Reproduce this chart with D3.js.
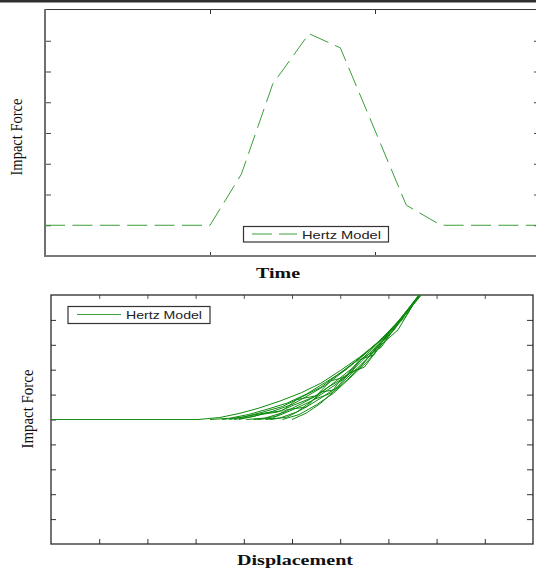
<!DOCTYPE html>
<html>
<head>
<meta charset="utf-8">
<script src="https://cdn.jsdelivr.net/npm/d3@7"></script>
<style>
  html, body { margin: 0; padding: 0; background: #fff; }
  svg { display: block; }
</style>
</head>
<body>
<svg id="chart" width="536" height="571"></svg>
<script>
// ---- Impact force vs time (Hertz model) ----
const timeTicks = [0, 1, 2, 3];
const forceTicksTop = [-1, 0, 1, 2, 3, 4, 5, 6, 7];
const timeValues  = [0, 1.0, 1.19, 1.38, 1.60, 1.79, 2.19, 2.40, 3.0];
const forceValues = [0, 0,   1.66, 4.59, 6.23, 5.77, 0.65, 0,    0];

// ---- Impact force vs displacement (Hertz model, repeated contacts) ----
const dispTicks = [0, 1, 2, 3, 4, 5, 6, 7, 8, 9, 10];
const forceTicksBottom = [-5, -4, -3, -2, -1, 0, 1, 2, 3, 4, 5];
const approachDisp  = [0, 3.05];
const approachForce = [0, 0];
const loopDisp = [
  [3.05, 3.5, 3.9, 4.3, 4.75, 5.2, 5.6, 6.0, 6.4, 6.8, 7.2, 7.6, 7.8],
  [3.3, 3.7, 4.1, 4.5, 4.9, 5.3, 5.7, 6.1, 6.5, 6.9, 7.3, 7.7],
  [3.55, 4.0, 4.4, 4.8, 5.2, 5.6, 5.95, 6.35, 6.75, 7.15, 7.55, 7.75],
  [3.8, 4.2, 4.6, 5.0, 5.35, 5.7, 6.1, 6.5, 6.9, 7.3, 7.7],
  [4.05, 4.45, 4.85, 5.2, 5.55, 5.9, 6.25, 6.65, 7.0, 7.4, 7.75],
  [4.3, 4.7, 5.05, 5.4, 5.75, 6.1, 6.45, 6.8, 7.2, 7.6, 7.8],
  [4.55, 4.9, 5.25, 5.6, 5.95, 6.3, 6.65, 7.0, 7.4, 7.75],
  [4.8, 5.15, 5.5, 5.85, 6.2, 6.55, 6.9, 7.25, 7.65, 7.8],
  [5.0, 5.3, 5.6, 5.85, 6.15, 6.45, 6.8, 7.15, 7.55, 7.75],
  [4.2, 4.6, 4.9, 5.3, 5.6, 5.9, 6.2, 6.5, 6.85, 7.2, 7.6, 7.8],
  [3.7, 4.4, 4.8, 5.1, 5.5, 5.8, 6.1, 6.4, 6.7, 7.0, 7.35, 7.7],
  [4.45, 4.75, 5.1, 5.45, 5.8, 6.05, 6.4, 6.75, 7.1, 7.5, 7.8],
  [3.9, 4.35, 4.7, 5.0, 5.45, 5.75, 6.15, 6.45, 6.85, 7.25, 7.7]
];
const loopForce = [
  [0, 0.08, 0.24, 0.45, 0.74, 1.08, 1.46, 1.96, 2.5, 3.12, 3.9, 4.8, 5.3],
  [0, 0.05, 0.2, 0.42, 0.66, 1.02, 1.5, 1.98, 2.62, 3.28, 4.1, 5.1],
  [0, 0.1, 0.3, 0.52, 0.9, 1.3, 1.8, 2.38, 3.05, 3.82, 4.78, 5.3],
  [0, 0.12, 0.33, 0.6, 0.98, 1.38, 1.98, 2.6, 3.32, 4.15, 5.1],
  [0, 0.06, 0.3, 0.64, 1.0, 1.52, 2.06, 2.8, 3.46, 4.38, 5.25],
  [0, 0.14, 0.42, 0.74, 1.2, 1.66, 2.36, 3.02, 3.92, 4.88, 5.4],
  [0, 0.1, 0.45, 0.86, 1.32, 1.96, 2.62, 3.42, 4.32, 5.25],
  [0, 0.2, 0.58, 1.04, 1.66, 2.3, 3.1, 3.96, 5.0, 5.4],
  [0, 0.26, 0.66, 1.1, 1.6, 2.2, 2.96, 3.78, 4.8, 5.3],
  [0, 0.05, 0.4, 0.5, 1.1, 1.2, 1.9, 2.1, 3.0, 3.6, 4.9, 5.3],
  [0, 0.25, 0.35, 0.8, 0.95, 1.55, 1.7, 2.4, 2.6, 3.5, 4.1, 5.2],
  [0, 0.06, 0.3, 0.8, 1.05, 1.7, 2.05, 2.9, 3.55, 4.6, 5.3],
  [0, 0.2, 0.3, 0.55, 0.9, 1.3, 1.75, 2.45, 2.9, 4.0, 5.15]
];

const svg = d3.select("#chart");

// thin dark rule along the top edge
svg.append("rect").attr("x", 0).attr("y", 0).attr("width", 536).attr("height", 2.5).attr("fill", "#2e2e2e");

function styleAxis(g, color) {
  g.select(".domain").remove();
  g.selectAll(".tick line").attr("stroke", color);
  g.selectAll(".tick text").remove();
}

// ================= Top panel =================
const xT = d3.scaleLinear().domain([0, 3]).range([45, 540]);
const yT = d3.scaleLinear().domain([-1, 7]).range([256, 10]);

const panelT = svg.append("g");
panelT.append("clipPath").attr("id", "clipTop")
  .append("rect").attr("x", xT(0)).attr("y", yT(7)).attr("width", xT(3) - xT(0)).attr("height", yT(-1) - yT(7));

panelT.append("g").attr("transform", `translate(${xT(0)},0)`)
  .call(d3.axisLeft(yT).tickValues(forceTicksTop.slice(1, -1)).tickSize(-6).tickFormat(""))
  .call(g => styleAxis(g, "#444"));
panelT.append("g").attr("transform", `translate(${xT(3)},0)`)
  .call(d3.axisRight(yT).tickValues(forceTicksTop.slice(1, -1)).tickSize(-6).tickFormat(""))
  .call(g => styleAxis(g, "#444"));
panelT.append("g").attr("transform", `translate(0,${yT(-1)})`)
  .call(d3.axisBottom(xT).tickValues(timeTicks.slice(1, -1)).tickSize(-4).tickFormat(""))
  .call(g => styleAxis(g, "#333"));
panelT.append("g").attr("transform", `translate(0,${yT(7)})`)
  .call(d3.axisTop(xT).tickValues(timeTicks.slice(1, -1)).tickSize(-4).tickFormat(""))
  .call(g => styleAxis(g, "#333"));

// frame
panelT.append("line").attr("x1", xT(0)).attr("x2", xT(3)).attr("y1", yT(7) - 0.5).attr("y2", yT(7) - 0.5)
  .attr("stroke", "#3a3a3a").attr("stroke-width", 1.2);
panelT.append("line").attr("x1", xT(0)).attr("x2", xT(0)).attr("y1", yT(7) - 1).attr("y2", yT(-1) + 1)
  .attr("stroke", "#707070").attr("stroke-width", 2);
panelT.append("line").attr("x1", xT(0)).attr("x2", xT(3)).attr("y1", yT(-1)).attr("y2", yT(-1))
  .attr("stroke", "#7a7a7a").attr("stroke-width", 2);

const lineT = d3.line().x((d, i) => xT(timeValues[i])).y((d, i) => yT(forceValues[i]));
panelT.append("path")
  .datum(timeValues)
  .attr("clip-path", "url(#clipTop)")
  .attr("d", lineT)
  .attr("fill", "none")
  .attr("stroke", "#3c9e3c")
  .attr("stroke-width", 1)
  .attr("stroke-dasharray", "20,7.4");

// legend
const legT = panelT.append("g");
legT.append("rect").attr("x", 243.5).attr("y", 226.5).attr("width", 145).attr("height", 15.5)
  .attr("fill", "#fff").attr("stroke", "#333").attr("stroke-width", 1.2);
legT.append("line").attr("x1", 252).attr("x2", 297).attr("y1", 234).attr("y2", 234)
  .attr("stroke", "#3c9e3c").attr("stroke-width", 1).attr("stroke-dasharray", "20,7");
legT.append("text").attr("x", 302).attr("y", 238.5)
  .attr("font-family", "Liberation Sans, Arial, sans-serif").attr("font-size", 11.5)
  .attr("textLength", 79).attr("lengthAdjust", "spacingAndGlyphs")
  .attr("fill", "#222").text("Hertz Model");

panelT.append("text")
  .attr("transform", `translate(22,${137}) rotate(-90)`)
  .attr("text-anchor", "middle")
  .attr("font-family", "Liberation Serif, Times New Roman, serif").attr("font-size", 16)
  .attr("textLength", 77).attr("lengthAdjust", "spacingAndGlyphs")
  .attr("fill", "#111").text("Impact Force");
panelT.append("text")
  .attr("x", 278).attr("y", 278)
  .attr("text-anchor", "middle")
  .attr("font-family", "Liberation Serif, Times New Roman, serif").attr("font-size", 14).attr("font-weight", "bold")
  .attr("textLength", 44).attr("lengthAdjust", "spacingAndGlyphs")
  .attr("fill", "#111").text("Time");

// ================= Bottom panel =================
const xB = d3.scaleLinear().domain([0, 10]).range([51, 533]);
const yB = d3.scaleLinear().domain([-5, 5]).range([544, 295]);

const panelB = svg.append("g");
panelB.append("clipPath").attr("id", "clipBot")
  .append("rect").attr("x", xB(0)).attr("y", yB(5)).attr("width", xB(10) - xB(0)).attr("height", yB(-5) - yB(5));

panelB.append("g").attr("transform", `translate(${xB(0)},0)`)
  .call(d3.axisLeft(yB).tickValues(forceTicksBottom.slice(1, -1)).tickSize(-5).tickFormat(""))
  .call(g => styleAxis(g, "#333"));
panelB.append("g").attr("transform", `translate(${xB(10)},0)`)
  .call(d3.axisRight(yB).tickValues(forceTicksBottom.slice(1, -1)).tickSize(-6).tickFormat(""))
  .call(g => styleAxis(g, "#333"));
panelB.append("g").attr("transform", `translate(0,${yB(-5)})`)
  .call(d3.axisBottom(xB).tickValues(dispTicks.slice(1, -1)).tickSize(-5).tickFormat(""))
  .call(g => styleAxis(g, "#333"));
panelB.append("g").attr("transform", `translate(0,${yB(5)})`)
  .call(d3.axisTop(xB).tickValues(dispTicks.slice(1, -1)).tickSize(-4).tickFormat(""))
  .call(g => styleAxis(g, "#555"));

panelB.append("rect").attr("x", xB(0)).attr("y", yB(5)).attr("width", xB(10) - xB(0)).attr("height", yB(-5) - yB(5))
  .attr("fill", "none").attr("stroke", "#2a2a2a").attr("stroke-width", 1.3);

const curves = panelB.append("g").attr("clip-path", "url(#clipBot)");
curves.append("path")
  .datum(approachDisp)
  .attr("d", d3.line().x((d, i) => xB(approachDisp[i])).y((d, i) => yB(approachForce[i])))
  .attr("fill", "none").attr("stroke", "#1a8c1a").attr("stroke-width", 1);

loopDisp.forEach((xs, k) => {
  const ys = loopForce[k];
  curves.append("path")
    .datum(xs)
    .attr("d", d3.line().x((d, i) => xB(xs[i])).y((d, i) => yB(ys[i])))
    .attr("fill", "none").attr("stroke", "#0f8a0f").attr("stroke-width", 1);
});

// legend
const legB = panelB.append("g");
legB.append("rect").attr("x", 68).attr("y", 306.5).attr("width", 142).attr("height", 17)
  .attr("fill", "#fff").attr("stroke", "#333").attr("stroke-width", 1.2);
legB.append("line").attr("x1", 77).attr("x2", 121).attr("y1", 314.5).attr("y2", 314.5)
  .attr("stroke", "#3c9e3c").attr("stroke-width", 1);
legB.append("text").attr("x", 126).attr("y", 319)
  .attr("font-family", "Liberation Sans, Arial, sans-serif").attr("font-size", 11.5)
  .attr("textLength", 76).attr("lengthAdjust", "spacingAndGlyphs")
  .attr("fill", "#222").text("Hertz Model");

panelB.append("text")
  .attr("transform", `translate(33,${409}) rotate(-90)`)
  .attr("text-anchor", "middle")
  .attr("font-family", "Liberation Serif, Times New Roman, serif").attr("font-size", 16)
  .attr("textLength", 79).attr("lengthAdjust", "spacingAndGlyphs")
  .attr("fill", "#111").text("Impact Force");
panelB.append("text")
  .attr("x", 295).attr("y", 565)
  .attr("text-anchor", "middle")
  .attr("font-family", "Liberation Serif, Times New Roman, serif").attr("font-size", 14).attr("font-weight", "bold")
  .attr("textLength", 116).attr("lengthAdjust", "spacingAndGlyphs")
  .attr("fill", "#111").text("Displacement");
</script>
</body>
</html>
